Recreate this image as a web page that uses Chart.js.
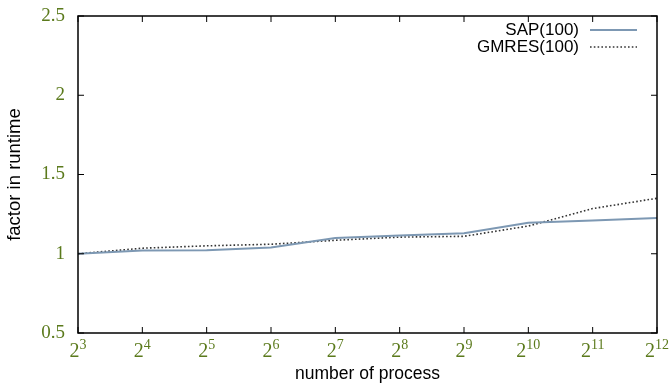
<!DOCTYPE html>
<html>
<head>
<meta charset="utf-8">
<script src="https://cdn.jsdelivr.net/npm/chart.js@4"></script>
<style>
  body { margin: 0; background: #fff; }
  #wrap { width: 672px; height: 383px; }
</style>
</head>
<body>
<div id="wrap"><canvas id="chart"></canvas></div>
<script>
const exponents = [3, 4, 5, 6, 7, 8, 9, 10, 11, 12];
const yTicks = [0.5, 1, 1.5, 2, 2.5];
const sapValues = [1.0, 1.02, 1.022, 1.04, 1.10, 1.115, 1.13, 1.195, 1.21, 1.225];
const gmresValues = [1.0, 1.035, 1.05, 1.06, 1.085, 1.105, 1.11, 1.175, 1.285, 1.35];

const tickColor = '#5b7a1c';

function toPoints(vals) {
    return vals.map((v, i) => ({ x: exponents[i], y: v }));
}

// frame, inward ticks (top/right mirrored), 2^n labels and gnuplot-style legend
const framePlugin = {
    id: 'frame',
    afterDraw(chart) {
        const ctx = chart.ctx;
        const a = chart.chartArea;
        const xs = chart.scales.x;
        const ys = chart.scales.y;
        ctx.save();
        ctx.strokeStyle = '#000';
        ctx.lineWidth = 1.5;
        ctx.strokeRect(a.left, a.top, a.right - a.left, a.bottom - a.top);
        ctx.lineWidth = 1;
        ctx.beginPath();
        exponents.forEach(e => {
            const px = xs.getPixelForValue(e);
            ctx.moveTo(px, a.bottom); ctx.lineTo(px, a.bottom - 6);
            ctx.moveTo(px, a.top); ctx.lineTo(px, a.top + 6);
        });
        yTicks.forEach(v => {
            const py = ys.getPixelForValue(v);
            ctx.moveTo(a.left, py); ctx.lineTo(a.left + 6, py);
            ctx.moveTo(a.right, py); ctx.lineTo(a.right - 6, py);
        });
        ctx.stroke();

        // x tick labels as 2 with superscript exponent
        ctx.fillStyle = tickColor;
        ctx.textBaseline = 'alphabetic';
        ctx.textAlign = 'left';
        exponents.forEach(e => {
            const px = xs.getPixelForValue(e);
            ctx.font = '20px "Liberation Serif"';
            const wb = ctx.measureText('2').width;
            ctx.font = '14px "Liberation Serif"';
            const we = ctx.measureText(String(e)).width;
            const x0 = px - (wb + we) / 2;
            ctx.font = '20px "Liberation Serif"';
            ctx.fillText('2', x0, a.bottom + 24);
            ctx.font = '14px "Liberation Serif"';
            ctx.fillText(String(e), x0 + wb, a.bottom + 16);
        });

        // legend
        ctx.font = '17px "Liberation Sans"';
        ctx.textAlign = 'right';
        ctx.textBaseline = 'middle';
        chart.data.datasets.forEach((ds, i) => {
            const y = 30 + i * 17;
            ctx.fillStyle = '#000';
            ctx.fillText(ds.label, 579, y);
            ctx.beginPath();
            ctx.strokeStyle = ds.borderColor;
            ctx.lineWidth = ds.borderWidth;
            ctx.setLineDash(ds.borderDash || []);
            ctx.moveTo(590, y); ctx.lineTo(637, y);
            ctx.stroke();
            ctx.setLineDash([]);
        });
        ctx.restore();
    }
};

const ctx = document.getElementById('chart').getContext('2d');
new Chart(ctx, {
    type: 'line',
    data: {
        datasets: [{
            label: 'SAP(100)',
            data: toPoints(sapValues),
            borderColor: '#7d98b3',
            borderWidth: 2,
            pointRadius: 0,
            fill: false
        }, {
            label: 'GMRES(100)',
            data: toPoints(gmresValues),
            borderColor: '#333333',
            borderWidth: 1.6,
            borderDash: [1.6, 2.2],
            pointRadius: 0,
            fill: false
        }]
    },
    options: {
        responsive: true,
        maintainAspectRatio: false,
        animation: false,
        layout: { padding: { top: 16, right: 15, left: 0, bottom: 0 } },
        plugins: { legend: { display: false }, tooltip: { enabled: false } },
        scales: {
            x: {
                type: 'linear',
                min: 3,
                max: 12,
                afterFit: s => { s.height = 50; },
                afterBuildTicks: s => { s.ticks = exponents.map(v => ({ value: v })); },
                grid: { display: false, drawTicks: false },
                border: { display: false },
                ticks: { display: false },
                title: {
                    display: true,
                    text: 'number of process',
                    color: '#000',
                    font: { family: '"Liberation Sans"', size: 17.5, lineHeight: 1 },
                    padding: { top: 0, bottom: 0 }
                }
            },
            y: {
                min: 0.5,
                max: 2.5,
                afterFit: s => { s.width = 78; s.paddingTop = 0; s.paddingBottom = 0; },
                afterBuildTicks: s => { s.ticks = yTicks.map(v => ({ value: v })); },
                grid: { display: false, drawTicks: false },
                border: { display: false },
                ticks: {
                    padding: 13,
                    color: tickColor,
                    font: { family: '"Liberation Serif"', size: 19, lineHeight: 0.8 },
                    callback: v => String(v)
                },
                title: {
                    display: true,
                    text: 'factor in runtime',
                    color: '#000',
                    font: { family: '"Liberation Sans"', size: 18.5 },
                    padding: { top: 4, bottom: 0 }
                }
            }
        }
    },
    plugins: [framePlugin]
});
</script>
</body>
</html>
